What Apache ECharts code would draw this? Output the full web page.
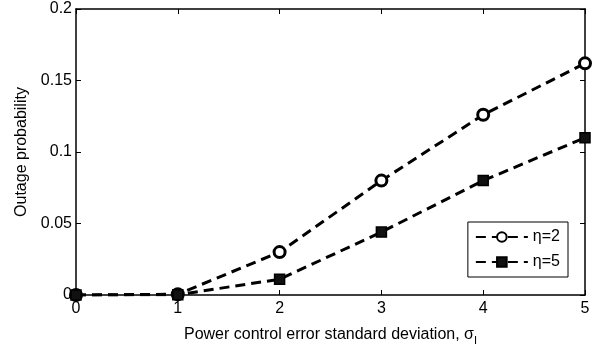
<!DOCTYPE html>
<html><head><meta charset="utf-8">
<script src="https://cdn.jsdelivr.net/npm/echarts@6/dist/echarts.min.js"></script>
<style>html,body{margin:0;padding:0;background:#fff}#c{width:598px;height:346px}</style>
</head><body><div id="c"></div>
<script>
var xValues = [0, 1, 2, 3, 4, 5];
var eta2 = [0, 0.0005, 0.030, 0.080, 0.126, 0.162];
var eta5 = [0, 0.0002, 0.011, 0.044, 0.080, 0.110];
var seriesNames = ['η=2', 'η=5'];

var FONT = 'Liberation Sans, Arial, Helvetica, sans-serif';
var chart = echarts.init(document.getElementById('c'), null, {renderer: 'canvas'});
function pairs(v){ return xValues.map(function(x,i){ return [x, v[i]]; }); }
var tickStyle = {show:true, inside:true, length:5, lineStyle:{color:'#000', width:1}};
var lineStyleBase = {color:'#000', width:3, type:[10,6]};
chart.setOption({
  animation:false,
  grid:{left:76, right:13, top:9, bottom:51, containLabel:false, outerBoundsMode:'none'},
  xAxis:[{
    type:'value', min:0, max:5, interval:1,
    axisLine:{show:true, onZero:false, lineStyle:{color:'#000', width:1.5}},
    axisTick:tickStyle,
    splitLine:{show:false},
    axisLabel:{color:'#000', fontFamily:FONT, fontSize:16, margin:6},
    name:'{a|Power control error standard deviation, σ}{s|I}',
    nameLocation:'middle', nameGap:28,
    nameTextStyle:{rich:{a:{color:'#000', fontFamily:FONT, fontSize:16}, s:{color:'#000', fontFamily:FONT, fontSize:11, padding:[12,0,0,0]}}}
  },{
    type:'value', min:0, max:5, interval:1, position:'top',
    axisLine:{show:true, onZero:false, lineStyle:{color:'#000', width:1.5}},
    axisTick:tickStyle, axisLabel:{show:false}, splitLine:{show:false}
  }],
  yAxis:[{
    type:'value', min:0, max:0.2, interval:0.05,
    axisLine:{show:true, onZero:false, lineStyle:{color:'#000', width:1.5}},
    axisTick:tickStyle,
    splitLine:{show:false},
    axisLabel:{color:'#000', fontFamily:FONT, fontSize:16, margin:4,
      formatter:function(v){ return String(parseFloat(v.toFixed(2))); }},
    name:'Outage probability', nameLocation:'middle', nameGap:44,
    nameTextStyle:{color:'#000', fontFamily:FONT, fontSize:16}
  },{
    type:'value', min:0, max:0.2, interval:0.05, position:'right',
    axisLine:{show:true, onZero:false, lineStyle:{color:'#000', width:1.5}},
    axisTick:tickStyle, axisLabel:{show:false}, splitLine:{show:false}
  }],
  legend:{
    right:30, bottom:69, orient:'vertical',
    backgroundColor:'#fff', borderColor:'#000', borderWidth:1, borderRadius:0,
    padding:[7,8,7,7], itemGap:9, itemWidth:52, itemHeight:12,
    textStyle:{color:'#000', fontFamily:FONT, fontSize:16},
    data:seriesNames
  },
  series:[{
    name:seriesNames[0], type:'line', data:pairs(eta2),
    symbol:'circle', symbolSize:11,
    itemStyle:{color:'#fff', borderColor:'#000', borderWidth:3},
    lineStyle:lineStyleBase
  },{
    name:seriesNames[1], type:'line', data:pairs(eta5),
    symbol:'rect', symbolSize:10,
    itemStyle:{color:'#111', borderColor:'#000', borderWidth:1.5},
    lineStyle:lineStyleBase
  }]
});
</script></body></html>
